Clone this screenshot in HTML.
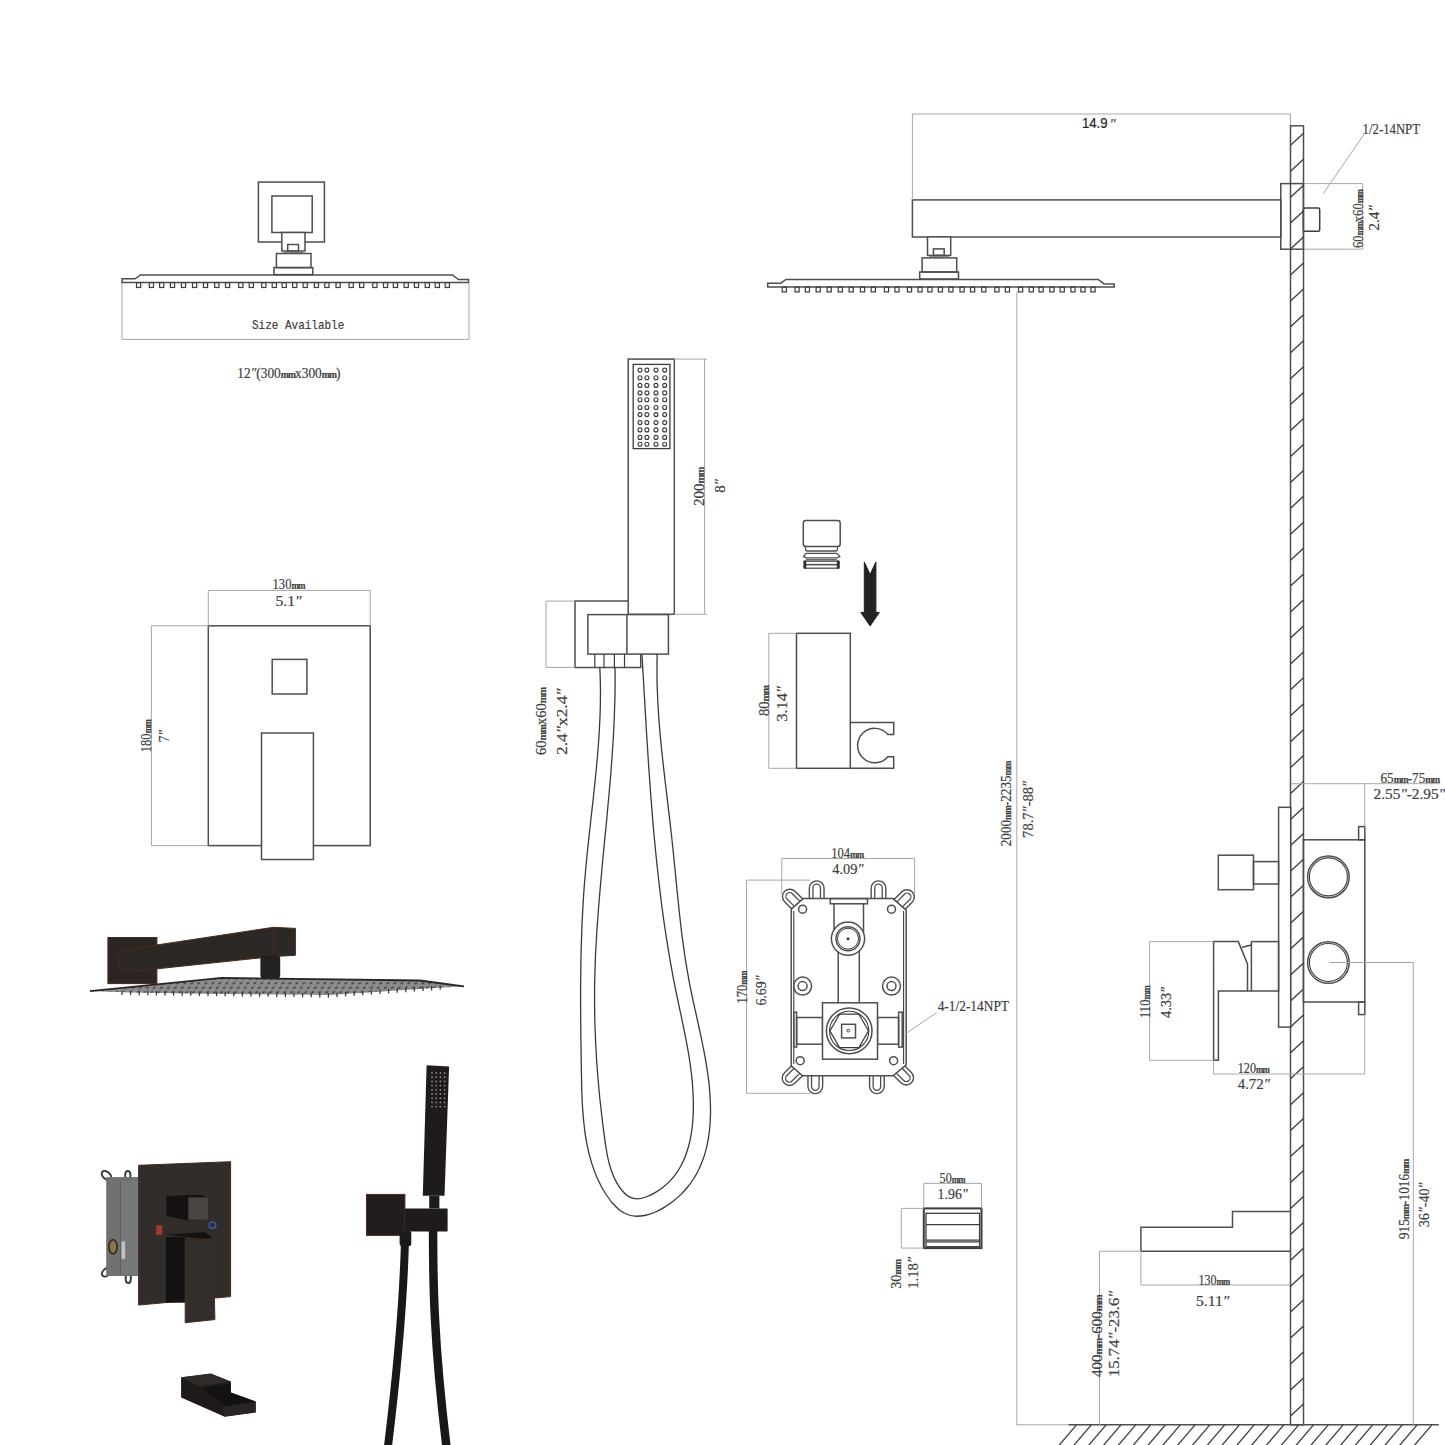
<!DOCTYPE html>
<html><head><meta charset="utf-8"><style>
html,body{margin:0;padding:0;background:#fff;overflow:hidden;}
svg{display:block;}
</style></head><body>
<svg width="1445" height="1445" viewBox="0 0 1445 1445">
<rect width="1445" height="1445" fill="#fff"/>
<path d="M122,278.8 L135.1,278.8 L140.3,275 L452.5,275 L458.4,279.5 L468.5,279.5 L468.5,282.6 L122,282.6 Z" stroke="#4e4e4e" stroke-width="1.5" fill="none"/>
<rect x="136.5" y="282.6" width="4.2" height="4.9" stroke="#3c3c3c" stroke-width="1.2" fill="none"/>
<rect x="149.3" y="282.6" width="4.2" height="4.9" stroke="#3c3c3c" stroke-width="1.2" fill="none"/>
<rect x="159.6" y="282.6" width="4.2" height="4.9" stroke="#3c3c3c" stroke-width="1.2" fill="none"/>
<rect x="170.4" y="282.6" width="4.2" height="4.9" stroke="#3c3c3c" stroke-width="1.2" fill="none"/>
<rect x="181.4" y="282.6" width="4.2" height="4.9" stroke="#3c3c3c" stroke-width="1.2" fill="none"/>
<rect x="192.5" y="282.6" width="4.2" height="4.9" stroke="#3c3c3c" stroke-width="1.2" fill="none"/>
<rect x="203.4" y="282.6" width="4.2" height="4.9" stroke="#3c3c3c" stroke-width="1.2" fill="none"/>
<rect x="214.7" y="282.6" width="4.2" height="4.9" stroke="#3c3c3c" stroke-width="1.2" fill="none"/>
<rect x="225.5" y="282.6" width="4.2" height="4.9" stroke="#3c3c3c" stroke-width="1.2" fill="none"/>
<rect x="238.7" y="282.6" width="4.2" height="4.9" stroke="#3c3c3c" stroke-width="1.2" fill="none"/>
<rect x="249.2" y="282.6" width="4.2" height="4.9" stroke="#3c3c3c" stroke-width="1.2" fill="none"/>
<rect x="261.7" y="282.6" width="4.2" height="4.9" stroke="#3c3c3c" stroke-width="1.2" fill="none"/>
<rect x="272.2" y="282.6" width="4.2" height="4.9" stroke="#3c3c3c" stroke-width="1.2" fill="none"/>
<rect x="282.1" y="282.6" width="4.2" height="4.9" stroke="#3c3c3c" stroke-width="1.2" fill="none"/>
<rect x="292.6" y="282.6" width="4.2" height="4.9" stroke="#3c3c3c" stroke-width="1.2" fill="none"/>
<rect x="303.1" y="282.6" width="4.2" height="4.9" stroke="#3c3c3c" stroke-width="1.2" fill="none"/>
<rect x="314.3" y="282.6" width="4.2" height="4.9" stroke="#3c3c3c" stroke-width="1.2" fill="none"/>
<rect x="324.8" y="282.6" width="4.2" height="4.9" stroke="#3c3c3c" stroke-width="1.2" fill="none"/>
<rect x="336.0" y="282.6" width="4.2" height="4.9" stroke="#3c3c3c" stroke-width="1.2" fill="none"/>
<rect x="349.1" y="282.6" width="4.2" height="4.9" stroke="#3c3c3c" stroke-width="1.2" fill="none"/>
<rect x="359.6" y="282.6" width="4.2" height="4.9" stroke="#3c3c3c" stroke-width="1.2" fill="none"/>
<rect x="372.8" y="282.6" width="4.2" height="4.9" stroke="#3c3c3c" stroke-width="1.2" fill="none"/>
<rect x="383.5" y="282.6" width="4.2" height="4.9" stroke="#3c3c3c" stroke-width="1.2" fill="none"/>
<rect x="393.3" y="282.6" width="4.2" height="4.9" stroke="#3c3c3c" stroke-width="1.2" fill="none"/>
<rect x="404.1" y="282.6" width="4.2" height="4.9" stroke="#3c3c3c" stroke-width="1.2" fill="none"/>
<rect x="414.4" y="282.6" width="4.2" height="4.9" stroke="#3c3c3c" stroke-width="1.2" fill="none"/>
<rect x="425.2" y="282.6" width="4.2" height="4.9" stroke="#3c3c3c" stroke-width="1.2" fill="none"/>
<rect x="435.2" y="282.6" width="4.2" height="4.9" stroke="#3c3c3c" stroke-width="1.2" fill="none"/>
<rect x="445.2" y="282.6" width="4.2" height="4.9" stroke="#3c3c3c" stroke-width="1.2" fill="none"/>
<rect x="258.4" y="182.1" width="66.0" height="59.9" stroke="#4e4e4e" stroke-width="1.5" fill="none"/>
<rect x="271.9" y="196.0" width="40.3" height="36.5" stroke="#4e4e4e" stroke-width="1.5" fill="none"/>
<rect x="281.8" y="232.5" width="23.2" height="18.5" stroke="#4e4e4e" stroke-width="1.5" fill="#fff"/>
<rect x="287.7" y="244.5" width="10.8" height="6.5" stroke="#4e4e4e" stroke-width="1.5" fill="none"/>
<line x1="283.5" y1="252.3" x2="303.5" y2="252.3" stroke="#777" stroke-width="1"/>
<rect x="276.4" y="253.5" width="34.6" height="14.1" stroke="#4e4e4e" stroke-width="1.5" fill="none"/>
<rect x="274.0" y="267.6" width="38.8" height="7.0" stroke="#4e4e4e" stroke-width="1.5" fill="none"/>
<line x1="122.0" y1="283.0" x2="122.0" y2="339.4" stroke="#a8a8a8" stroke-width="1" fill="none"/>
<line x1="469.0" y1="283.0" x2="469.0" y2="339.4" stroke="#a8a8a8" stroke-width="1" fill="none"/>
<line x1="122.0" y1="339.4" x2="469.0" y2="339.4" stroke="#a8a8a8" stroke-width="1" fill="none"/>
<text x="252.0" y="328.6" font-family="Liberation Mono" font-size="13.5" fill="#404040" textLength="92.3" lengthAdjust="spacingAndGlyphs" stroke="#404040" stroke-width="0.2">Size Available</text>
<text x="237.3" y="377.8" font-family="Liberation Serif" font-size="15" fill="#404040" textLength="103.2" lengthAdjust="spacingAndGlyphs" stroke="#404040" stroke-width="0.2">12<tspan font-style="italic">″</tspan>(300<tspan font-size="0.72em" font-weight="bold" letter-spacing="-1.0">mm</tspan>x300<tspan font-size="0.72em" font-weight="bold" letter-spacing="-1.0">mm</tspan>)</text>
<rect x="912.4" y="199.9" width="368.4" height="37.1" stroke="#4e4e4e" stroke-width="1.5" fill="none"/>
<rect x="1280.8" y="183.6" width="22.6" height="65.6" stroke="#4e4e4e" stroke-width="1.5" fill="none"/>
<rect x="1303.4" y="208.1" width="16.3" height="23.2" stroke="#3c3c3c" stroke-width="1.5" fill="#fff" rx="1.5"/>
<path d="M767.7,283.2 L780.8000000000001,283.2 L786.0,279.4 L1098.2,279.4 L1104.1,283.9 L1114.2,283.9 L1114.2,287.0 L767.7,287.0 Z" stroke="#4e4e4e" stroke-width="1.5" fill="none"/>
<rect x="782.2" y="287.0" width="4.2" height="4.9" stroke="#3c3c3c" stroke-width="1.2" fill="none"/>
<rect x="795.0" y="287.0" width="4.2" height="4.9" stroke="#3c3c3c" stroke-width="1.2" fill="none"/>
<rect x="805.3" y="287.0" width="4.2" height="4.9" stroke="#3c3c3c" stroke-width="1.2" fill="none"/>
<rect x="816.1" y="287.0" width="4.2" height="4.9" stroke="#3c3c3c" stroke-width="1.2" fill="none"/>
<rect x="827.1" y="287.0" width="4.2" height="4.9" stroke="#3c3c3c" stroke-width="1.2" fill="none"/>
<rect x="838.2" y="287.0" width="4.2" height="4.9" stroke="#3c3c3c" stroke-width="1.2" fill="none"/>
<rect x="849.1" y="287.0" width="4.2" height="4.9" stroke="#3c3c3c" stroke-width="1.2" fill="none"/>
<rect x="860.4" y="287.0" width="4.2" height="4.9" stroke="#3c3c3c" stroke-width="1.2" fill="none"/>
<rect x="871.2" y="287.0" width="4.2" height="4.9" stroke="#3c3c3c" stroke-width="1.2" fill="none"/>
<rect x="884.4" y="287.0" width="4.2" height="4.9" stroke="#3c3c3c" stroke-width="1.2" fill="none"/>
<rect x="894.9" y="287.0" width="4.2" height="4.9" stroke="#3c3c3c" stroke-width="1.2" fill="none"/>
<rect x="907.4" y="287.0" width="4.2" height="4.9" stroke="#3c3c3c" stroke-width="1.2" fill="none"/>
<rect x="917.9" y="287.0" width="4.2" height="4.9" stroke="#3c3c3c" stroke-width="1.2" fill="none"/>
<rect x="927.8" y="287.0" width="4.2" height="4.9" stroke="#3c3c3c" stroke-width="1.2" fill="none"/>
<rect x="938.3" y="287.0" width="4.2" height="4.9" stroke="#3c3c3c" stroke-width="1.2" fill="none"/>
<rect x="948.8" y="287.0" width="4.2" height="4.9" stroke="#3c3c3c" stroke-width="1.2" fill="none"/>
<rect x="960.0" y="287.0" width="4.2" height="4.9" stroke="#3c3c3c" stroke-width="1.2" fill="none"/>
<rect x="970.5" y="287.0" width="4.2" height="4.9" stroke="#3c3c3c" stroke-width="1.2" fill="none"/>
<rect x="981.7" y="287.0" width="4.2" height="4.9" stroke="#3c3c3c" stroke-width="1.2" fill="none"/>
<rect x="994.8" y="287.0" width="4.2" height="4.9" stroke="#3c3c3c" stroke-width="1.2" fill="none"/>
<rect x="1005.3" y="287.0" width="4.2" height="4.9" stroke="#3c3c3c" stroke-width="1.2" fill="none"/>
<rect x="1018.5" y="287.0" width="4.2" height="4.9" stroke="#3c3c3c" stroke-width="1.2" fill="none"/>
<rect x="1029.2" y="287.0" width="4.2" height="4.9" stroke="#3c3c3c" stroke-width="1.2" fill="none"/>
<rect x="1039.0" y="287.0" width="4.2" height="4.9" stroke="#3c3c3c" stroke-width="1.2" fill="none"/>
<rect x="1049.8" y="287.0" width="4.2" height="4.9" stroke="#3c3c3c" stroke-width="1.2" fill="none"/>
<rect x="1060.1" y="287.0" width="4.2" height="4.9" stroke="#3c3c3c" stroke-width="1.2" fill="none"/>
<rect x="1070.9" y="287.0" width="4.2" height="4.9" stroke="#3c3c3c" stroke-width="1.2" fill="none"/>
<rect x="1080.9" y="287.0" width="4.2" height="4.9" stroke="#3c3c3c" stroke-width="1.2" fill="none"/>
<rect x="1090.9" y="287.0" width="4.2" height="4.9" stroke="#3c3c3c" stroke-width="1.2" fill="none"/>
<rect x="927.5" y="236.9" width="23.2" height="18.5" stroke="#4e4e4e" stroke-width="1.5" fill="#fff"/>
<rect x="933.4" y="248.9" width="10.8" height="6.5" stroke="#4e4e4e" stroke-width="1.5" fill="none"/>
<line x1="929.2" y1="256.7" x2="949.2" y2="256.7" stroke="#777" stroke-width="1"/>
<rect x="922.1" y="257.9" width="34.6" height="14.1" stroke="#4e4e4e" stroke-width="1.5" fill="none"/>
<rect x="919.7" y="272.0" width="38.8" height="7.0" stroke="#4e4e4e" stroke-width="1.5" fill="none"/>
<line x1="912.4" y1="114.0" x2="1290.5" y2="114.0" stroke="#a8a8a8" stroke-width="1" fill="none"/>
<line x1="912.4" y1="114.0" x2="912.4" y2="199.9" stroke="#a8a8a8" stroke-width="1" fill="none"/>
<line x1="1290.5" y1="114.0" x2="1290.5" y2="125.8" stroke="#a8a8a8" stroke-width="1" fill="none"/>
<text x="1081.9" y="127.7" font-family="Liberation Sans" font-size="14.5" fill="#222" textLength="25.7" lengthAdjust="spacingAndGlyphs" stroke="#222" stroke-width="0.2">14.9</text>
<text x="1109.5" y="127.7" font-family="Liberation Sans" font-size="13" fill="#666" textLength="6.0" lengthAdjust="spacingAndGlyphs" stroke="#666" stroke-width="0.2"><tspan font-style="italic">″</tspan></text>
<line x1="1303.4" y1="183.6" x2="1362.7" y2="183.6" stroke="#a8a8a8" stroke-width="1" fill="none"/>
<line x1="1303.4" y1="249.2" x2="1362.7" y2="249.2" stroke="#a8a8a8" stroke-width="1" fill="none"/>
<line x1="1362.7" y1="183.6" x2="1362.7" y2="249.2" stroke="#a8a8a8" stroke-width="1" fill="none"/>
<line x1="1364.6" y1="133.4" x2="1323.3" y2="193.6" stroke="#a8a8a8" stroke-width="1" fill="none"/>
<text x="1362.6" y="134.0" font-family="Liberation Serif" font-size="15" fill="#404040" textLength="57.4" lengthAdjust="spacingAndGlyphs" stroke="#404040" stroke-width="0.2">1/2-14NPT</text>
<text transform="translate(1362.5,248.0) rotate(-90)" x="0" y="0" font-family="Liberation Serif" font-size="15" fill="#404040" textLength="58.0" lengthAdjust="spacingAndGlyphs" stroke="#404040" stroke-width="0.2">60<tspan font-size="0.72em" font-weight="bold" letter-spacing="-1.0">mm</tspan>x60<tspan font-size="0.72em" font-weight="bold" letter-spacing="-1.0">mm</tspan></text>
<text transform="translate(1379.4,230.8) rotate(-90)" x="0" y="0" font-family="Liberation Serif" font-size="15" fill="#404040" textLength="25.8" lengthAdjust="spacingAndGlyphs" stroke="#404040" stroke-width="0.2">2.4<tspan font-style="italic">″</tspan></text>
<line x1="1016.8" y1="291.5" x2="1016.8" y2="1424.8" stroke="#a8a8a8" stroke-width="1" fill="none"/>
<line x1="1016.0" y1="1424.8" x2="1068.5" y2="1424.8" stroke="#a8a8a8" stroke-width="1" fill="none"/>
<text transform="translate(1011.0,846.2) rotate(-90)" x="0" y="0" font-family="Liberation Serif" font-size="15" fill="#404040" textLength="84.7" lengthAdjust="spacingAndGlyphs" stroke="#404040" stroke-width="0.2">2000<tspan font-size="0.72em" font-weight="bold" letter-spacing="-1.0">mm</tspan>-2235<tspan font-size="0.72em" font-weight="bold" letter-spacing="-1.0">mm</tspan></text>
<text transform="translate(1032.6,837.9) rotate(-90)" x="0" y="0" font-family="Liberation Serif" font-size="15" fill="#404040" textLength="57.0" lengthAdjust="spacingAndGlyphs" stroke="#404040" stroke-width="0.2">78.7<tspan font-style="italic">″</tspan>-88<tspan font-style="italic">″</tspan></text>
<rect x="1290.5" y="125.8" width="13.0" height="1299.0" stroke="#4e4e4e" stroke-width="1.5" fill="none"/>
<line x1="1290.5" y1="145.3" x2="1303.5" y2="133.3" stroke="#3c3c3c" stroke-width="1.3"/>
<line x1="1290.5" y1="171.2" x2="1303.5" y2="159.2" stroke="#3c3c3c" stroke-width="1.3"/>
<line x1="1290.5" y1="197.2" x2="1303.5" y2="185.2" stroke="#3c3c3c" stroke-width="1.3"/>
<line x1="1290.5" y1="223.1" x2="1303.5" y2="211.1" stroke="#3c3c3c" stroke-width="1.3"/>
<line x1="1290.5" y1="249.0" x2="1303.5" y2="237.0" stroke="#3c3c3c" stroke-width="1.3"/>
<line x1="1290.5" y1="275.0" x2="1303.5" y2="263.0" stroke="#3c3c3c" stroke-width="1.3"/>
<line x1="1290.5" y1="300.9" x2="1303.5" y2="288.9" stroke="#3c3c3c" stroke-width="1.3"/>
<line x1="1290.5" y1="326.8" x2="1303.5" y2="314.8" stroke="#3c3c3c" stroke-width="1.3"/>
<line x1="1290.5" y1="352.7" x2="1303.5" y2="340.7" stroke="#3c3c3c" stroke-width="1.3"/>
<line x1="1290.5" y1="378.7" x2="1303.5" y2="366.7" stroke="#3c3c3c" stroke-width="1.3"/>
<line x1="1290.5" y1="404.6" x2="1303.5" y2="392.6" stroke="#3c3c3c" stroke-width="1.3"/>
<line x1="1290.5" y1="430.5" x2="1303.5" y2="418.5" stroke="#3c3c3c" stroke-width="1.3"/>
<line x1="1290.5" y1="456.5" x2="1303.5" y2="444.5" stroke="#3c3c3c" stroke-width="1.3"/>
<line x1="1290.5" y1="482.4" x2="1303.5" y2="470.4" stroke="#3c3c3c" stroke-width="1.3"/>
<line x1="1290.5" y1="508.3" x2="1303.5" y2="496.3" stroke="#3c3c3c" stroke-width="1.3"/>
<line x1="1290.5" y1="534.2" x2="1303.5" y2="522.2" stroke="#3c3c3c" stroke-width="1.3"/>
<line x1="1290.5" y1="560.2" x2="1303.5" y2="548.2" stroke="#3c3c3c" stroke-width="1.3"/>
<line x1="1290.5" y1="586.1" x2="1303.5" y2="574.1" stroke="#3c3c3c" stroke-width="1.3"/>
<line x1="1290.5" y1="612.0" x2="1303.5" y2="600.0" stroke="#3c3c3c" stroke-width="1.3"/>
<line x1="1290.5" y1="638.0" x2="1303.5" y2="626.0" stroke="#3c3c3c" stroke-width="1.3"/>
<line x1="1290.5" y1="663.9" x2="1303.5" y2="651.9" stroke="#3c3c3c" stroke-width="1.3"/>
<line x1="1290.5" y1="689.8" x2="1303.5" y2="677.8" stroke="#3c3c3c" stroke-width="1.3"/>
<line x1="1290.5" y1="715.8" x2="1303.5" y2="703.8" stroke="#3c3c3c" stroke-width="1.3"/>
<line x1="1290.5" y1="741.7" x2="1303.5" y2="729.7" stroke="#3c3c3c" stroke-width="1.3"/>
<line x1="1290.5" y1="767.6" x2="1303.5" y2="755.6" stroke="#3c3c3c" stroke-width="1.3"/>
<line x1="1290.5" y1="793.5" x2="1303.5" y2="781.5" stroke="#3c3c3c" stroke-width="1.3"/>
<line x1="1290.5" y1="819.5" x2="1303.5" y2="807.5" stroke="#3c3c3c" stroke-width="1.3"/>
<line x1="1290.5" y1="845.4" x2="1303.5" y2="833.4" stroke="#3c3c3c" stroke-width="1.3"/>
<line x1="1290.5" y1="871.3" x2="1303.5" y2="859.3" stroke="#3c3c3c" stroke-width="1.3"/>
<line x1="1290.5" y1="897.3" x2="1303.5" y2="885.3" stroke="#3c3c3c" stroke-width="1.3"/>
<line x1="1290.5" y1="923.2" x2="1303.5" y2="911.2" stroke="#3c3c3c" stroke-width="1.3"/>
<line x1="1290.5" y1="949.1" x2="1303.5" y2="937.1" stroke="#3c3c3c" stroke-width="1.3"/>
<line x1="1290.5" y1="975.1" x2="1303.5" y2="963.1" stroke="#3c3c3c" stroke-width="1.3"/>
<line x1="1290.5" y1="1001.0" x2="1303.5" y2="989.0" stroke="#3c3c3c" stroke-width="1.3"/>
<line x1="1290.5" y1="1026.9" x2="1303.5" y2="1014.9" stroke="#3c3c3c" stroke-width="1.3"/>
<line x1="1290.5" y1="1052.8" x2="1303.5" y2="1040.8" stroke="#3c3c3c" stroke-width="1.3"/>
<line x1="1290.5" y1="1078.8" x2="1303.5" y2="1066.8" stroke="#3c3c3c" stroke-width="1.3"/>
<line x1="1290.5" y1="1104.7" x2="1303.5" y2="1092.7" stroke="#3c3c3c" stroke-width="1.3"/>
<line x1="1290.5" y1="1130.6" x2="1303.5" y2="1118.6" stroke="#3c3c3c" stroke-width="1.3"/>
<line x1="1290.5" y1="1156.6" x2="1303.5" y2="1144.6" stroke="#3c3c3c" stroke-width="1.3"/>
<line x1="1290.5" y1="1182.5" x2="1303.5" y2="1170.5" stroke="#3c3c3c" stroke-width="1.3"/>
<line x1="1290.5" y1="1208.4" x2="1303.5" y2="1196.4" stroke="#3c3c3c" stroke-width="1.3"/>
<line x1="1290.5" y1="1234.4" x2="1303.5" y2="1222.4" stroke="#3c3c3c" stroke-width="1.3"/>
<line x1="1290.5" y1="1260.3" x2="1303.5" y2="1248.3" stroke="#3c3c3c" stroke-width="1.3"/>
<line x1="1290.5" y1="1286.2" x2="1303.5" y2="1274.2" stroke="#3c3c3c" stroke-width="1.3"/>
<line x1="1290.5" y1="1312.1" x2="1303.5" y2="1300.1" stroke="#3c3c3c" stroke-width="1.3"/>
<line x1="1290.5" y1="1338.1" x2="1303.5" y2="1326.1" stroke="#3c3c3c" stroke-width="1.3"/>
<line x1="1290.5" y1="1364.0" x2="1303.5" y2="1352.0" stroke="#3c3c3c" stroke-width="1.3"/>
<line x1="1290.5" y1="1389.9" x2="1303.5" y2="1377.9" stroke="#3c3c3c" stroke-width="1.3"/>
<line x1="1290.5" y1="1415.9" x2="1303.5" y2="1403.9" stroke="#3c3c3c" stroke-width="1.3"/>
<line x1="1068.5" y1="1424.8" x2="1438.8" y2="1424.8" stroke="#4e4e4e" stroke-width="1.5" fill="none"/>
<line x1="1076.5" y1="1424.8" x2="1058.9" y2="1445.5" stroke="#3c3c3c" stroke-width="1.3"/>
<line x1="1091.3" y1="1424.8" x2="1073.7" y2="1445.5" stroke="#3c3c3c" stroke-width="1.3"/>
<line x1="1106.1" y1="1424.8" x2="1088.5" y2="1445.5" stroke="#3c3c3c" stroke-width="1.3"/>
<line x1="1120.9" y1="1424.8" x2="1103.3" y2="1445.5" stroke="#3c3c3c" stroke-width="1.3"/>
<line x1="1135.7" y1="1424.8" x2="1118.1" y2="1445.5" stroke="#3c3c3c" stroke-width="1.3"/>
<line x1="1150.5" y1="1424.8" x2="1133.0" y2="1445.5" stroke="#3c3c3c" stroke-width="1.3"/>
<line x1="1165.4" y1="1424.8" x2="1147.8" y2="1445.5" stroke="#3c3c3c" stroke-width="1.3"/>
<line x1="1180.2" y1="1424.8" x2="1162.6" y2="1445.5" stroke="#3c3c3c" stroke-width="1.3"/>
<line x1="1195.0" y1="1424.8" x2="1177.4" y2="1445.5" stroke="#3c3c3c" stroke-width="1.3"/>
<line x1="1209.8" y1="1424.8" x2="1192.2" y2="1445.5" stroke="#3c3c3c" stroke-width="1.3"/>
<line x1="1224.6" y1="1424.8" x2="1207.0" y2="1445.5" stroke="#3c3c3c" stroke-width="1.3"/>
<line x1="1239.4" y1="1424.8" x2="1221.8" y2="1445.5" stroke="#3c3c3c" stroke-width="1.3"/>
<line x1="1254.2" y1="1424.8" x2="1236.6" y2="1445.5" stroke="#3c3c3c" stroke-width="1.3"/>
<line x1="1269.0" y1="1424.8" x2="1251.4" y2="1445.5" stroke="#3c3c3c" stroke-width="1.3"/>
<line x1="1283.8" y1="1424.8" x2="1266.2" y2="1445.5" stroke="#3c3c3c" stroke-width="1.3"/>
<line x1="1298.7" y1="1424.8" x2="1281.1" y2="1445.5" stroke="#3c3c3c" stroke-width="1.3"/>
<line x1="1313.5" y1="1424.8" x2="1295.9" y2="1445.5" stroke="#3c3c3c" stroke-width="1.3"/>
<line x1="1328.3" y1="1424.8" x2="1310.7" y2="1445.5" stroke="#3c3c3c" stroke-width="1.3"/>
<line x1="1343.1" y1="1424.8" x2="1325.5" y2="1445.5" stroke="#3c3c3c" stroke-width="1.3"/>
<line x1="1357.9" y1="1424.8" x2="1340.3" y2="1445.5" stroke="#3c3c3c" stroke-width="1.3"/>
<line x1="1372.7" y1="1424.8" x2="1355.1" y2="1445.5" stroke="#3c3c3c" stroke-width="1.3"/>
<line x1="1387.5" y1="1424.8" x2="1369.9" y2="1445.5" stroke="#3c3c3c" stroke-width="1.3"/>
<line x1="1402.3" y1="1424.8" x2="1384.7" y2="1445.5" stroke="#3c3c3c" stroke-width="1.3"/>
<line x1="1417.1" y1="1424.8" x2="1399.5" y2="1445.5" stroke="#3c3c3c" stroke-width="1.3"/>
<line x1="1431.9" y1="1424.8" x2="1414.3" y2="1445.5" stroke="#3c3c3c" stroke-width="1.3"/>
<rect x="1278.6" y="807.3" width="12.1" height="219.8" stroke="#4e4e4e" stroke-width="1.5" fill="#fff"/>
<rect x="1303.4" y="839.8" width="61.4" height="162.2" stroke="#4e4e4e" stroke-width="1.5" fill="none"/>
<rect x="1358.6" y="826.6" width="6.2" height="13.2" stroke="#4e4e4e" stroke-width="1.5" fill="none"/>
<rect x="1358.6" y="1002.0" width="6.2" height="12.6" stroke="#4e4e4e" stroke-width="1.5" fill="none"/>
<circle cx="1328.4" cy="876.9" r="20.8" stroke="#4e4e4e" stroke-width="1.5" fill="none"/>
<circle cx="1328.4" cy="876.9" r="19.0" stroke="#3c3c3c" stroke-width="1.1" fill="none"/>
<circle cx="1328.4" cy="962.5" r="20.8" stroke="#4e4e4e" stroke-width="1.5" fill="none"/>
<circle cx="1328.4" cy="962.5" r="19.0" stroke="#3c3c3c" stroke-width="1.1" fill="none"/>
<rect x="1218.3" y="855.2" width="35.2" height="34.5" stroke="#4e4e4e" stroke-width="1.5" fill="none"/>
<rect x="1253.5" y="861.6" width="25.1" height="22.4" stroke="#4e4e4e" stroke-width="1.5" fill="none"/>
<polygon points="1213.6,941.6 1238.3,941.6 1247.5,963.9 1247.5,991.0 1218.4,991.0 1218.4,1060.3 1213.6,1060.3" stroke="#4e4e4e" stroke-width="1.5" fill="none"/>
<line x1="1241.7" y1="947.4" x2="1251.4" y2="945.0" stroke="#3c3c3c" stroke-width="1.3"/>
<rect x="1251.4" y="941.6" width="27.2" height="49.4" stroke="#4e4e4e" stroke-width="1.5" fill="none"/>
<line x1="1247.5" y1="991.0" x2="1251.4" y2="991.0" stroke="#4e4e4e" stroke-width="1.5" fill="none"/>
<line x1="1290.8" y1="783.7" x2="1439.9" y2="783.7" stroke="#a8a8a8" stroke-width="1" fill="none"/>
<line x1="1364.7" y1="783.7" x2="1364.7" y2="826.6" stroke="#a8a8a8" stroke-width="1" fill="none"/>
<line x1="1364.7" y1="1014.6" x2="1364.7" y2="1074.0" stroke="#a8a8a8" stroke-width="1" fill="none"/>
<line x1="1213.6" y1="1060.3" x2="1213.6" y2="1074.0" stroke="#a8a8a8" stroke-width="1" fill="none"/>
<line x1="1213.6" y1="1074.0" x2="1364.7" y2="1074.0" stroke="#a8a8a8" stroke-width="1" fill="none"/>
<line x1="1149.6" y1="941.6" x2="1213.6" y2="941.6" stroke="#a8a8a8" stroke-width="1" fill="none"/>
<line x1="1149.6" y1="1060.3" x2="1213.6" y2="1060.3" stroke="#a8a8a8" stroke-width="1" fill="none"/>
<line x1="1149.6" y1="941.6" x2="1149.6" y2="1060.3" stroke="#a8a8a8" stroke-width="1" fill="none"/>
<line x1="1329.5" y1="962.5" x2="1413.3" y2="962.5" stroke="#a8a8a8" stroke-width="1" fill="none"/>
<line x1="1413.3" y1="962.5" x2="1413.3" y2="1424.8" stroke="#a8a8a8" stroke-width="1" fill="none"/>
<text x="1380.5" y="783.4" font-family="Liberation Serif" font-size="15" fill="#404040" textLength="58.8" lengthAdjust="spacingAndGlyphs" stroke="#404040" stroke-width="0.2">65<tspan font-size="0.72em" font-weight="bold" letter-spacing="-1.0">mm</tspan>-75<tspan font-size="0.72em" font-weight="bold" letter-spacing="-1.0">mm</tspan></text>
<text x="1373.6" y="799.4" font-family="Liberation Serif" font-size="15" fill="#404040" textLength="71.4" lengthAdjust="spacingAndGlyphs" stroke="#404040" stroke-width="0.2">2.55<tspan font-style="italic">″</tspan>-2.95<tspan font-style="italic">″</tspan></text>
<text x="1237.7" y="1073.2" font-family="Liberation Serif" font-size="15" fill="#404040" textLength="31.3" lengthAdjust="spacingAndGlyphs" stroke="#404040" stroke-width="0.2">120<tspan font-size="0.72em" font-weight="bold" letter-spacing="-1.0">mm</tspan></text>
<text x="1237.7" y="1088.8" font-family="Liberation Serif" font-size="15" fill="#404040" textLength="32.3" lengthAdjust="spacingAndGlyphs" stroke="#404040" stroke-width="0.2">4.72<tspan font-style="italic">″</tspan></text>
<text transform="translate(1150.3,1018.0) rotate(-90)" x="0" y="0" font-family="Liberation Serif" font-size="15" fill="#404040" textLength="32.0" lengthAdjust="spacingAndGlyphs" stroke="#404040" stroke-width="0.2">110<tspan font-size="0.72em" font-weight="bold" letter-spacing="-1.0">mm</tspan></text>
<text transform="translate(1170.8,1018.0) rotate(-90)" x="0" y="0" font-family="Liberation Serif" font-size="15" fill="#404040" textLength="31.0" lengthAdjust="spacingAndGlyphs" stroke="#404040" stroke-width="0.2">4.33<tspan font-style="italic">″</tspan></text>
<polyline points="1290.2,1251.2 1140.9,1251.2 1140.9,1227.2 1232.5,1227.2 1232.5,1211.5 1290.2,1211.5" stroke="#4e4e4e" stroke-width="1.5" fill="none"/>
<line x1="1140.9" y1="1251.2" x2="1140.9" y2="1285.0" stroke="#a8a8a8" stroke-width="1" fill="none"/>
<line x1="1140.9" y1="1285.0" x2="1290.2" y2="1285.0" stroke="#a8a8a8" stroke-width="1" fill="none"/>
<line x1="1099.5" y1="1251.2" x2="1140.9" y2="1251.2" stroke="#a8a8a8" stroke-width="1" fill="none"/>
<line x1="1099.5" y1="1251.2" x2="1099.5" y2="1424.8" stroke="#a8a8a8" stroke-width="1" fill="none"/>
<text x="1198.6" y="1284.7" font-family="Liberation Serif" font-size="15" fill="#404040" textLength="30.8" lengthAdjust="spacingAndGlyphs" stroke="#404040" stroke-width="0.2">130<tspan font-size="0.72em" font-weight="bold" letter-spacing="-1.0">mm</tspan></text>
<text x="1196.0" y="1306.2" font-family="Liberation Serif" font-size="15" fill="#404040" textLength="33.4" lengthAdjust="spacingAndGlyphs" stroke="#404040" stroke-width="0.2">5.11<tspan font-style="italic">″</tspan></text>
<text transform="translate(1101.6,1377.0) rotate(-90)" x="0" y="0" font-family="Liberation Serif" font-size="15" fill="#404040" textLength="81.6" lengthAdjust="spacingAndGlyphs" stroke="#404040" stroke-width="0.2">400<tspan font-size="0.72em" font-weight="bold" letter-spacing="-1.0">mm</tspan>-600<tspan font-size="0.72em" font-weight="bold" letter-spacing="-1.0">mm</tspan></text>
<text transform="translate(1118.6,1377.0) rotate(-90)" x="0" y="0" font-family="Liberation Serif" font-size="15" fill="#404040" textLength="86.2" lengthAdjust="spacingAndGlyphs" stroke="#404040" stroke-width="0.2">15.74<tspan font-style="italic">″</tspan>-23.6<tspan font-style="italic">″</tspan></text>
<text transform="translate(1409.0,1239.2) rotate(-90)" x="0" y="0" font-family="Liberation Serif" font-size="15" fill="#404040" textLength="79.6" lengthAdjust="spacingAndGlyphs" stroke="#404040" stroke-width="0.2">915<tspan font-size="0.72em" font-weight="bold" letter-spacing="-1.0">mm</tspan>-1016<tspan font-size="0.72em" font-weight="bold" letter-spacing="-1.0">mm</tspan></text>
<text transform="translate(1428.7,1227.2) rotate(-90)" x="0" y="0" font-family="Liberation Serif" font-size="15" fill="#404040" textLength="44.7" lengthAdjust="spacingAndGlyphs" stroke="#404040" stroke-width="0.2">36<tspan font-style="italic">″</tspan>-40<tspan font-style="italic">″</tspan></text>
<rect x="208.3" y="625.8" width="161.9" height="219.8" stroke="#4e4e4e" stroke-width="1.5" fill="none"/>
<rect x="272.2" y="659.4" width="34.7" height="34.6" stroke="#4e4e4e" stroke-width="1.5" fill="none"/>
<rect x="261.5" y="733.0" width="51.9" height="126.5" stroke="#4e4e4e" stroke-width="1.5" fill="#fff"/>
<line x1="208.3" y1="590.4" x2="370.2" y2="590.4" stroke="#a8a8a8" stroke-width="1" fill="none"/>
<line x1="208.3" y1="590.4" x2="208.3" y2="625.8" stroke="#a8a8a8" stroke-width="1" fill="none"/>
<line x1="370.2" y1="590.4" x2="370.2" y2="625.8" stroke="#a8a8a8" stroke-width="1" fill="none"/>
<line x1="151.4" y1="625.8" x2="208.3" y2="625.8" stroke="#a8a8a8" stroke-width="1" fill="none"/>
<line x1="151.4" y1="845.6" x2="208.3" y2="845.6" stroke="#a8a8a8" stroke-width="1" fill="none"/>
<line x1="151.4" y1="625.8" x2="151.4" y2="845.6" stroke="#a8a8a8" stroke-width="1" fill="none"/>
<text x="272.6" y="589.3" font-family="Liberation Serif" font-size="15" fill="#404040" textLength="32.2" lengthAdjust="spacingAndGlyphs" stroke="#404040" stroke-width="0.2">130<tspan font-size="0.72em" font-weight="bold" letter-spacing="-1.0">mm</tspan></text>
<text x="275.4" y="606.0" font-family="Liberation Serif" font-size="15" fill="#404040" textLength="26.2" lengthAdjust="spacingAndGlyphs" stroke="#404040" stroke-width="0.2">5.1<tspan font-style="italic">″</tspan></text>
<text transform="translate(151.4,752.3) rotate(-90)" x="0" y="0" font-family="Liberation Serif" font-size="15" fill="#404040" textLength="32.2" lengthAdjust="spacingAndGlyphs" stroke="#404040" stroke-width="0.2">180<tspan font-size="0.72em" font-weight="bold" letter-spacing="-1.0">mm</tspan></text>
<text transform="translate(168.6,742.6) rotate(-90)" x="0" y="0" font-family="Liberation Serif" font-size="15" fill="#404040" textLength="12.8" lengthAdjust="spacingAndGlyphs" stroke="#404040" stroke-width="0.2">7<tspan font-style="italic">″</tspan></text>
<rect x="628.2" y="359.1" width="46.1" height="255.2" stroke="#4e4e4e" stroke-width="1.5" fill="none"/>
<rect x="633.2" y="364.4" width="36.7" height="84.2" stroke="#3c3c3c" stroke-width="1.3" fill="none"/>
<circle cx="640.0" cy="370.1" r="2.0" stroke="#3c3c3c" stroke-width="1.1" fill="none"/>
<circle cx="640.0" cy="377.8" r="2.0" stroke="#3c3c3c" stroke-width="1.1" fill="none"/>
<circle cx="640.0" cy="385.4" r="2.0" stroke="#3c3c3c" stroke-width="1.1" fill="none"/>
<circle cx="640.0" cy="392.9" r="2.0" stroke="#3c3c3c" stroke-width="1.1" fill="none"/>
<circle cx="640.0" cy="399.8" r="2.0" stroke="#3c3c3c" stroke-width="1.1" fill="none"/>
<circle cx="640.0" cy="407.5" r="2.0" stroke="#3c3c3c" stroke-width="1.1" fill="none"/>
<circle cx="640.0" cy="414.6" r="2.0" stroke="#3c3c3c" stroke-width="1.1" fill="none"/>
<circle cx="640.0" cy="422.6" r="2.0" stroke="#3c3c3c" stroke-width="1.1" fill="none"/>
<circle cx="640.0" cy="429.9" r="2.0" stroke="#3c3c3c" stroke-width="1.1" fill="none"/>
<circle cx="640.0" cy="437.4" r="2.0" stroke="#3c3c3c" stroke-width="1.1" fill="none"/>
<circle cx="640.0" cy="444.3" r="2.0" stroke="#3c3c3c" stroke-width="1.1" fill="none"/>
<circle cx="646.9" cy="370.1" r="2.0" stroke="#3c3c3c" stroke-width="1.1" fill="none"/>
<circle cx="646.9" cy="377.8" r="2.0" stroke="#3c3c3c" stroke-width="1.1" fill="none"/>
<circle cx="646.9" cy="385.4" r="2.0" stroke="#3c3c3c" stroke-width="1.1" fill="none"/>
<circle cx="646.9" cy="392.9" r="2.0" stroke="#3c3c3c" stroke-width="1.1" fill="none"/>
<circle cx="646.9" cy="399.8" r="2.0" stroke="#3c3c3c" stroke-width="1.1" fill="none"/>
<circle cx="646.9" cy="407.5" r="2.0" stroke="#3c3c3c" stroke-width="1.1" fill="none"/>
<circle cx="646.9" cy="414.6" r="2.0" stroke="#3c3c3c" stroke-width="1.1" fill="none"/>
<circle cx="646.9" cy="422.6" r="2.0" stroke="#3c3c3c" stroke-width="1.1" fill="none"/>
<circle cx="646.9" cy="429.9" r="2.0" stroke="#3c3c3c" stroke-width="1.1" fill="none"/>
<circle cx="646.9" cy="437.4" r="2.0" stroke="#3c3c3c" stroke-width="1.1" fill="none"/>
<circle cx="646.9" cy="444.3" r="2.0" stroke="#3c3c3c" stroke-width="1.1" fill="none"/>
<circle cx="656.0" cy="370.1" r="2.0" stroke="#3c3c3c" stroke-width="1.1" fill="none"/>
<circle cx="656.0" cy="377.8" r="2.0" stroke="#3c3c3c" stroke-width="1.1" fill="none"/>
<circle cx="656.0" cy="385.4" r="2.0" stroke="#3c3c3c" stroke-width="1.1" fill="none"/>
<circle cx="656.0" cy="392.9" r="2.0" stroke="#3c3c3c" stroke-width="1.1" fill="none"/>
<circle cx="656.0" cy="399.8" r="2.0" stroke="#3c3c3c" stroke-width="1.1" fill="none"/>
<circle cx="656.0" cy="407.5" r="2.0" stroke="#3c3c3c" stroke-width="1.1" fill="none"/>
<circle cx="656.0" cy="414.6" r="2.0" stroke="#3c3c3c" stroke-width="1.1" fill="none"/>
<circle cx="656.0" cy="422.6" r="2.0" stroke="#3c3c3c" stroke-width="1.1" fill="none"/>
<circle cx="656.0" cy="429.9" r="2.0" stroke="#3c3c3c" stroke-width="1.1" fill="none"/>
<circle cx="656.0" cy="437.4" r="2.0" stroke="#3c3c3c" stroke-width="1.1" fill="none"/>
<circle cx="656.0" cy="444.3" r="2.0" stroke="#3c3c3c" stroke-width="1.1" fill="none"/>
<circle cx="664.7" cy="370.1" r="2.0" stroke="#3c3c3c" stroke-width="1.1" fill="none"/>
<circle cx="664.7" cy="377.8" r="2.0" stroke="#3c3c3c" stroke-width="1.1" fill="none"/>
<circle cx="664.7" cy="385.4" r="2.0" stroke="#3c3c3c" stroke-width="1.1" fill="none"/>
<circle cx="664.7" cy="392.9" r="2.0" stroke="#3c3c3c" stroke-width="1.1" fill="none"/>
<circle cx="664.7" cy="399.8" r="2.0" stroke="#3c3c3c" stroke-width="1.1" fill="none"/>
<circle cx="664.7" cy="407.5" r="2.0" stroke="#3c3c3c" stroke-width="1.1" fill="none"/>
<circle cx="664.7" cy="414.6" r="2.0" stroke="#3c3c3c" stroke-width="1.1" fill="none"/>
<circle cx="664.7" cy="422.6" r="2.0" stroke="#3c3c3c" stroke-width="1.1" fill="none"/>
<circle cx="664.7" cy="429.9" r="2.0" stroke="#3c3c3c" stroke-width="1.1" fill="none"/>
<circle cx="664.7" cy="437.4" r="2.0" stroke="#3c3c3c" stroke-width="1.1" fill="none"/>
<circle cx="664.7" cy="444.3" r="2.0" stroke="#3c3c3c" stroke-width="1.1" fill="none"/>
<line x1="674.3" y1="359.1" x2="707.0" y2="359.1" stroke="#a8a8a8" stroke-width="1" fill="none"/>
<line x1="674.3" y1="614.3" x2="707.0" y2="614.3" stroke="#a8a8a8" stroke-width="1" fill="none"/>
<line x1="704.6" y1="359.1" x2="704.6" y2="614.3" stroke="#a8a8a8" stroke-width="1" fill="none"/>
<text transform="translate(703.5,505.9) rotate(-90)" x="0" y="0" font-family="Liberation Serif" font-size="15" fill="#404040" textLength="38.3" lengthAdjust="spacingAndGlyphs" stroke="#404040" stroke-width="0.2">200<tspan font-size="0.72em" font-weight="bold" letter-spacing="-1.0">mm</tspan></text>
<text transform="translate(725.2,492.7) rotate(-90)" x="0" y="0" font-family="Liberation Serif" font-size="15" fill="#404040" textLength="13.7" lengthAdjust="spacingAndGlyphs" stroke="#404040" stroke-width="0.2">8<tspan font-style="italic">″</tspan></text>
<polyline points="628.2,601.1 575.0,601.1 575.0,667.4 640.7,667.4 640.7,654.1" stroke="#4e4e4e" stroke-width="1.5" fill="none"/>
<rect x="587.9" y="614.6" width="80.5" height="39.5" stroke="#4e4e4e" stroke-width="1.5" fill="#fff"/>
<line x1="626.9" y1="614.6" x2="626.9" y2="654.1" stroke="#4e4e4e" stroke-width="1.5" fill="none"/>
<line x1="594.8" y1="654.1" x2="594.8" y2="667.4" stroke="#3c3c3c" stroke-width="1.2"/>
<line x1="604.0" y1="654.1" x2="604.0" y2="667.4" stroke="#3c3c3c" stroke-width="1.2"/>
<line x1="614.4" y1="654.1" x2="614.4" y2="667.4" stroke="#3c3c3c" stroke-width="1.2"/>
<line x1="624.5" y1="654.1" x2="624.5" y2="667.4" stroke="#3c3c3c" stroke-width="1.2"/>
<line x1="546.0" y1="601.1" x2="575.0" y2="601.1" stroke="#a8a8a8" stroke-width="1" fill="none"/>
<line x1="546.0" y1="667.4" x2="575.0" y2="667.4" stroke="#a8a8a8" stroke-width="1" fill="none"/>
<line x1="546.0" y1="601.1" x2="546.0" y2="667.4" stroke="#a8a8a8" stroke-width="1" fill="none"/>
<text transform="translate(545.9,754.9) rotate(-90)" x="0" y="0" font-family="Liberation Serif" font-size="15" fill="#404040" textLength="67.1" lengthAdjust="spacingAndGlyphs" stroke="#404040" stroke-width="0.2">60<tspan font-size="0.72em" font-weight="bold" letter-spacing="-1.0">mm</tspan>x60<tspan font-size="0.72em" font-weight="bold" letter-spacing="-1.0">mm</tspan></text>
<text transform="translate(566.7,754.9) rotate(-90)" x="0" y="0" font-family="Liberation Serif" font-size="15" fill="#404040" textLength="66.5" lengthAdjust="spacingAndGlyphs" stroke="#404040" stroke-width="0.2">2.4<tspan font-style="italic">″</tspan>x2.4<tspan font-style="italic">″</tspan></text>
<path d="M599.8,667.4 C599.9,669.0 600.1,673.9 600.2,677.2 C600.3,680.4 600.4,683.7 600.4,687.0 C600.5,690.2 600.5,693.5 600.4,696.8 C600.4,700.0 600.4,703.3 600.3,706.6 C600.2,709.9 600.1,713.1 600.0,716.4 C599.9,719.7 599.7,723.0 599.5,726.3 C599.4,729.6 599.2,732.9 599.0,736.1 C598.7,739.4 598.5,742.7 598.3,746.0 C598.0,749.3 597.7,752.6 597.5,755.9 C597.2,759.2 596.9,762.5 596.6,765.8 C596.3,769.1 596.0,772.4 595.6,775.7 C595.3,779.0 595.0,782.2 594.6,785.5 C594.3,788.8 593.9,792.1 593.6,795.4 C593.2,798.7 592.8,802.0 592.5,805.3 C592.1,808.6 591.7,811.9 591.4,815.2 C591.0,818.5 590.6,821.8 590.3,825.1 C589.9,828.3 589.5,831.6 589.2,834.9 C588.8,838.2 588.5,841.5 588.1,844.8 C587.8,848.1 587.4,851.3 587.1,854.6 C586.8,857.9 586.5,861.2 586.1,864.4 C585.8,867.7 585.5,871.0 585.3,874.3 C585.0,877.5 584.7,880.8 584.4,884.1 C584.2,887.3 584.0,890.6 583.7,893.8 C583.5,897.1 583.3,900.3 583.1,903.6 C582.9,906.9 582.7,910.1 582.6,913.4 C582.4,916.6 582.2,919.9 582.1,923.1 C581.9,926.4 581.8,929.6 581.7,932.9 C581.6,936.1 581.5,939.3 581.4,942.6 C581.3,945.8 581.2,949.1 581.1,952.3 C581.0,955.6 581.0,958.8 580.9,962.1 C580.8,965.4 580.8,968.6 580.8,971.9 C580.7,975.1 580.7,978.4 580.7,981.6 C580.6,984.9 580.6,988.2 580.6,991.4 C580.6,994.7 580.6,998.0 580.6,1001.3 C580.6,1004.5 580.6,1007.8 580.6,1011.1 C580.7,1014.4 580.7,1017.7 580.7,1021.0 C580.7,1024.3 580.8,1027.6 580.8,1030.9 C580.8,1034.2 580.9,1037.5 580.9,1040.8 C581.0,1044.1 581.0,1047.4 581.1,1050.8 C581.1,1054.1 581.2,1057.4 581.2,1060.8 C581.3,1064.1 581.3,1067.5 581.4,1070.8 C581.5,1074.2 581.5,1077.6 581.6,1080.9 C581.7,1084.3 581.7,1087.7 581.8,1091.1 C582.0,1094.4 582.1,1097.8 582.2,1101.2 C582.4,1104.5 582.6,1107.9 582.8,1111.2 C583.1,1114.6 583.3,1117.9 583.7,1121.2 C584.0,1124.5 584.4,1127.8 584.8,1131.1 C585.2,1134.4 585.7,1137.6 586.3,1140.8 C586.9,1144.1 587.5,1147.3 588.3,1150.4 C589.0,1153.6 589.8,1156.8 590.7,1159.9 C591.6,1163.0 592.6,1166.0 593.7,1169.1 C594.8,1172.1 595.9,1175.1 597.2,1178.0 C598.6,1180.9 600.0,1183.8 601.5,1186.7 C603.0,1189.5 604.7,1192.4 606.5,1195.0 C608.3,1197.7 610.2,1200.4 612.2,1202.8 C614.3,1205.2 616.5,1207.5 618.9,1209.4 C621.2,1211.2 623.7,1212.9 626.4,1214.0 C629.1,1215.2 632.0,1215.9 635.0,1216.2 C638.0,1216.4 641.3,1216.1 644.5,1215.5 C647.7,1214.9 651.0,1213.8 654.3,1212.5 C657.5,1211.2 660.8,1209.5 663.8,1207.6 C666.9,1205.8 670.0,1203.7 672.8,1201.5 C675.6,1199.3 678.3,1197.0 680.8,1194.6 C683.3,1192.1 685.6,1189.6 687.7,1187.0 C689.8,1184.4 691.7,1181.7 693.5,1179.0 C695.3,1176.2 696.9,1173.4 698.3,1170.5 C699.8,1167.6 701.0,1164.6 702.2,1161.6 C703.4,1158.6 704.4,1155.5 705.3,1152.4 C706.2,1149.3 706.9,1146.1 707.5,1143.0 C708.2,1139.8 708.7,1136.6 709.1,1133.3 C709.6,1130.1 709.9,1126.8 710.1,1123.5 C710.3,1120.3 710.4,1117.0 710.5,1113.7 C710.6,1110.4 710.5,1107.1 710.4,1103.9 C710.3,1100.6 710.2,1097.3 709.9,1094.0 C709.7,1090.8 709.4,1087.5 709.1,1084.3 C708.7,1081.0 708.3,1077.8 707.9,1074.5 C707.4,1071.3 706.9,1068.0 706.4,1064.8 C705.9,1061.5 705.3,1058.3 704.7,1055.1 C704.1,1051.8 703.5,1048.6 702.8,1045.4 C702.2,1042.2 701.5,1038.9 700.8,1035.7 C700.1,1032.5 699.4,1029.3 698.7,1026.0 C698.0,1022.8 697.3,1019.6 696.6,1016.4 C695.8,1013.1 695.1,1009.9 694.4,1006.7 C693.7,1003.5 693.0,1000.2 692.3,997.0 C691.6,993.8 691.0,990.6 690.3,987.3 C689.7,984.1 689.0,980.9 688.5,977.6 C687.9,974.4 687.3,971.1 686.8,967.9 C686.2,964.7 685.7,961.4 685.2,958.2 C684.7,954.9 684.2,951.7 683.8,948.4 C683.3,945.2 682.9,941.9 682.4,938.7 C682.0,935.4 681.6,932.2 681.2,928.9 C680.8,925.7 680.5,922.4 680.1,919.1 C679.7,915.9 679.4,912.6 679.0,909.4 C678.7,906.1 678.3,902.8 678.0,899.6 C677.7,896.3 677.3,893.0 677.0,889.8 C676.7,886.5 676.4,883.2 676.0,880.0 C675.7,876.7 675.4,873.4 675.1,870.2 C674.8,866.9 674.4,863.6 674.1,860.4 C673.8,857.1 673.5,853.8 673.1,850.6 C672.8,847.3 672.4,844.0 672.1,840.8 C671.7,837.5 671.4,834.2 671.0,831.0 C670.6,827.7 670.3,824.4 669.9,821.2 C669.5,817.9 669.1,814.6 668.7,811.4 C668.3,808.1 667.9,804.8 667.6,801.6 C667.2,798.3 666.8,795.0 666.4,791.8 C666.0,788.5 665.6,785.2 665.2,782.0 C664.8,778.7 664.5,775.4 664.1,772.2 C663.7,768.9 663.3,765.6 663.0,762.4 C662.6,759.1 662.3,755.8 661.9,752.6 C661.6,749.3 661.3,746.0 660.9,742.7 C660.6,739.5 660.3,736.2 660.0,732.9 C659.7,729.6 659.5,726.4 659.2,723.1 C659.0,719.8 658.7,716.5 658.5,713.3 C658.3,710.0 658.1,706.7 657.9,703.4 C657.7,700.1 657.6,696.9 657.5,693.6 C657.3,690.3 657.2,687.0 657.1,683.7 C657.1,680.4 657.0,677.2 657.0,673.9 C657.0,670.6 657.0,667.3 657.0,664.0 C657.0,660.7 657.2,655.7 657.2,654.1" stroke="#3a3a3a" stroke-width="1.3" fill="none"/>
<path d="M615.0,667.4 C615.0,669.0 615.1,673.7 615.1,676.8 C615.1,679.9 615.1,683.0 615.1,686.2 C615.1,689.3 615.0,692.4 615.0,695.5 C614.9,698.7 614.8,701.8 614.7,704.9 C614.6,708.1 614.5,711.2 614.4,714.3 C614.3,717.5 614.2,720.6 614.0,723.7 C613.9,726.8 613.7,730.0 613.6,733.1 C613.4,736.2 613.2,739.4 613.0,742.5 C612.8,745.6 612.6,748.8 612.4,751.9 C612.2,755.0 612.0,758.2 611.7,761.3 C611.5,764.4 611.3,767.6 611.0,770.7 C610.8,773.8 610.5,777.0 610.3,780.1 C610.0,783.2 609.7,786.4 609.4,789.5 C609.2,792.6 608.9,795.8 608.6,798.9 C608.3,802.0 608.0,805.2 607.7,808.3 C607.4,811.4 607.2,814.6 606.9,817.7 C606.6,820.8 606.3,824.0 606.0,827.1 C605.7,830.3 605.3,833.4 605.0,836.5 C604.7,839.7 604.4,842.8 604.1,845.9 C603.8,849.1 603.5,852.2 603.2,855.3 C602.9,858.5 602.6,861.6 602.3,864.7 C602.0,867.8 601.7,871.0 601.5,874.1 C601.2,877.2 600.9,880.4 600.6,883.5 C600.3,886.6 600.1,889.8 599.8,892.9 C599.5,896.0 599.3,899.2 599.0,902.3 C598.7,905.4 598.5,908.5 598.3,911.7 C598.0,914.8 597.8,917.9 597.6,921.1 C597.3,924.2 597.1,927.3 596.9,930.4 C596.7,933.6 596.5,936.7 596.4,939.8 C596.2,942.9 596.0,946.1 595.8,949.2 C595.7,952.3 595.5,955.4 595.4,958.6 C595.3,961.7 595.2,964.8 595.1,967.9 C595.0,971.0 594.9,974.2 594.8,977.3 C594.7,980.4 594.7,983.5 594.6,986.6 C594.6,989.7 594.6,992.9 594.6,996.0 C594.6,999.1 594.6,1002.2 594.6,1005.3 C594.6,1008.4 594.7,1011.6 594.7,1014.7 C594.8,1017.8 594.9,1020.9 594.9,1024.0 C595.0,1027.1 595.1,1030.3 595.3,1033.4 C595.4,1036.5 595.5,1039.6 595.7,1042.7 C595.8,1045.9 596.0,1049.0 596.2,1052.1 C596.3,1055.2 596.5,1058.4 596.7,1061.5 C596.9,1064.6 597.2,1067.8 597.4,1070.9 C597.6,1074.0 597.9,1077.2 598.2,1080.3 C598.4,1083.5 598.7,1086.6 599.0,1089.8 C599.3,1092.9 599.6,1096.1 599.9,1099.2 C600.3,1102.4 600.6,1105.5 601.0,1108.7 C601.3,1111.9 601.7,1115.0 602.1,1118.2 C602.4,1121.4 602.8,1124.6 603.2,1127.7 C603.6,1130.9 604.0,1134.1 604.5,1137.3 C604.9,1140.5 605.3,1143.7 605.9,1146.9 C606.4,1150.0 606.9,1153.2 607.5,1156.3 C608.2,1159.4 608.9,1162.5 609.8,1165.5 C610.6,1168.5 611.6,1171.5 612.7,1174.3 C613.9,1177.2 615.2,1180.0 616.7,1182.6 C618.2,1185.2 619.9,1187.9 621.8,1190.2 C623.8,1192.5 625.9,1194.9 628.4,1196.4 C630.8,1197.8 633.6,1198.8 636.5,1198.9 C639.5,1199.0 642.8,1198.1 645.9,1197.0 C649.0,1196.0 652.2,1194.3 655.1,1192.6 C657.9,1191.0 660.6,1189.1 663.1,1187.2 C665.6,1185.2 667.9,1183.1 670.0,1180.9 C672.2,1178.6 674.1,1176.3 675.9,1173.8 C677.7,1171.4 679.3,1168.8 680.7,1166.2 C682.2,1163.5 683.5,1160.8 684.6,1158.0 C685.8,1155.1 686.8,1152.2 687.7,1149.3 C688.6,1146.3 689.4,1143.3 690.1,1140.2 C690.7,1137.2 691.3,1134.0 691.7,1130.9 C692.2,1127.7 692.5,1124.6 692.7,1121.4 C693.0,1118.2 693.2,1115.0 693.3,1111.7 C693.4,1108.5 693.4,1105.3 693.3,1102.1 C693.3,1098.9 693.2,1095.7 693.0,1092.6 C692.8,1089.4 692.6,1086.2 692.4,1083.1 C692.1,1079.9 691.8,1076.8 691.4,1073.7 C691.1,1070.6 690.6,1067.5 690.2,1064.4 C689.8,1061.3 689.3,1058.2 688.8,1055.1 C688.3,1052.0 687.7,1048.9 687.2,1045.8 C686.6,1042.8 686.0,1039.7 685.4,1036.6 C684.8,1033.6 684.2,1030.5 683.6,1027.5 C682.9,1024.4 682.3,1021.3 681.7,1018.3 C681.0,1015.2 680.4,1012.2 679.7,1009.1 C679.1,1006.1 678.4,1003.0 677.8,1000.0 C677.1,996.9 676.5,993.9 675.9,990.8 C675.2,987.7 674.6,984.7 674.0,981.6 C673.4,978.5 672.8,975.5 672.3,972.4 C671.7,969.3 671.2,966.3 670.6,963.2 C670.1,960.1 669.5,957.0 669.0,953.9 C668.5,950.8 668.0,947.8 667.5,944.7 C667.0,941.6 666.5,938.5 666.0,935.4 C665.6,932.3 665.1,929.2 664.6,926.1 C664.2,923.0 663.7,919.9 663.3,916.8 C662.9,913.7 662.5,910.6 662.0,907.4 C661.6,904.3 661.2,901.2 660.8,898.1 C660.5,895.0 660.1,891.9 659.7,888.8 C659.3,885.6 659.0,882.5 658.6,879.4 C658.2,876.3 657.9,873.1 657.6,870.0 C657.2,866.9 656.9,863.8 656.6,860.6 C656.2,857.5 655.9,854.4 655.6,851.3 C655.3,848.1 655.0,845.0 654.7,841.9 C654.4,838.7 654.1,835.6 653.8,832.5 C653.6,829.3 653.3,826.2 653.0,823.1 C652.7,819.9 652.5,816.8 652.2,813.6 C652.0,810.5 651.7,807.4 651.5,804.2 C651.2,801.1 651.0,798.0 650.7,794.8 C650.5,791.7 650.3,788.5 650.1,785.4 C649.8,782.3 649.6,779.1 649.4,776.0 C649.2,772.9 648.9,769.7 648.7,766.6 C648.5,763.4 648.3,760.3 648.1,757.2 C647.9,754.0 647.7,750.9 647.5,747.8 C647.3,744.6 647.1,741.5 646.9,738.4 C646.7,735.2 646.5,732.1 646.3,729.0 C646.1,725.8 646.0,722.7 645.8,719.6 C645.6,716.5 645.4,713.3 645.2,710.2 C645.0,707.1 644.8,703.9 644.7,700.8 C644.5,697.7 644.3,694.6 644.1,691.5 C643.9,688.3 643.7,685.2 643.6,682.1 C643.4,679.0 643.2,675.9 643.0,672.8 C642.8,669.6 642.6,666.5 642.5,663.4 C642.3,660.3 642.0,655.7 641.9,654.1" stroke="#3a3a3a" stroke-width="1.3" fill="none"/>
<rect x="803.3" y="520.6" width="36.9" height="25.8" rx="2.5" stroke="#4e4e4e" stroke-width="1.5" fill="#fff"/>
<path d="M805.5,546.4 L805.5,549 Q805.5,551 807.5,551 L835.5,551 Q837.5,551 837.5,549 L837.5,546.4" stroke="#4e4e4e" stroke-width="1.3" fill="none"/>
<line x1="806.0" y1="553.4" x2="837.0" y2="553.4" stroke="#4e4e4e" stroke-width="1.3" fill="none"/>
<path d="M806,553.4 L803.5,556.5 L806,557.8 L837,557.8 L839.8,556.5 L837,553.4" stroke="#4e4e4e" stroke-width="1.3" fill="none"/>
<line x1="806.0" y1="559.8" x2="837.0" y2="559.8" stroke="#4e4e4e" stroke-width="1.3" fill="none"/>
<rect x="804.8" y="561.2" width="33.5" height="3.4" stroke="#4e4e4e" stroke-width="1.3" fill="none"/>
<rect x="804.8" y="564.6" width="33.5" height="3.6" stroke="#4e4e4e" stroke-width="1.3" fill="none"/>
<rect x="803.3" y="560.6" width="3.0" height="8.2" rx="1.2" fill="#333" stroke="none"/>
<rect x="836.8" y="560.6" width="3.0" height="8.2" rx="1.2" fill="#333" stroke="none"/>
<path d="M864.3,562 L870.1,574.6 L875.9,562 L875.9,612.4 L879.4,612.4 L870.1,625.9 L860.8,612.4 L864.3,612.4 Z" fill="#222" stroke="#222" stroke-width="1"/>
<rect x="796.5" y="633.3" width="53.8" height="135.0" stroke="#4e4e4e" stroke-width="1.5" fill="none"/>
<path d="M850.3,722.4 L893.7,722.4 L893.7,734.4 L887.9,734.4 A17.2,17.2 0 1 0 887.9,756.7 L893.7,756.7 L893.7,768.3 L850.3,768.3" stroke="#4e4e4e" stroke-width="1.5" fill="none"/>
<line x1="768.8" y1="633.3" x2="768.8" y2="768.3" stroke="#a8a8a8" stroke-width="1" fill="none"/>
<line x1="768.8" y1="633.3" x2="796.5" y2="633.3" stroke="#a8a8a8" stroke-width="1" fill="none"/>
<line x1="768.8" y1="768.3" x2="796.5" y2="768.3" stroke="#a8a8a8" stroke-width="1" fill="none"/>
<text transform="translate(769.4,716.0) rotate(-90)" x="0" y="0" font-family="Liberation Serif" font-size="15" fill="#404040" textLength="30.0" lengthAdjust="spacingAndGlyphs" stroke="#404040" stroke-width="0.2">80<tspan font-size="0.72em" font-weight="bold" letter-spacing="-1.0">mm</tspan></text>
<text transform="translate(786.8,721.8) rotate(-90)" x="0" y="0" font-family="Liberation Serif" font-size="15" fill="#404040" textLength="35.8" lengthAdjust="spacingAndGlyphs" stroke="#404040" stroke-width="0.2">3.14<tspan font-style="italic">″</tspan></text>
<g transform="translate(816.7,899.5) rotate(-90)"><path d="M0,-7.35 L11.250000000000002,-7.35 A7.35,7.35 0 0 1 11.250000000000002,7.35 L0,7.35" stroke="#4e4e4e" stroke-width="1.4" fill="#fff"/><path d="M0,-3.75 L11.55,-3.75 A3.75,3.75 0 0 1 11.55,3.75 L0,3.75" stroke="#4e4e4e" stroke-width="1.3" fill="none"/></g>
<g transform="translate(878.5,899.5) rotate(-90)"><path d="M0,-7.35 L11.250000000000002,-7.35 A7.35,7.35 0 0 1 11.250000000000002,7.35 L0,7.35" stroke="#4e4e4e" stroke-width="1.4" fill="#fff"/><path d="M0,-3.75 L11.55,-3.75 A3.75,3.75 0 0 1 11.55,3.75 L0,3.75" stroke="#4e4e4e" stroke-width="1.3" fill="none"/></g>
<g transform="translate(815.3,1075.0) rotate(90)"><path d="M0,-7.35 L11.250000000000002,-7.35 A7.35,7.35 0 0 1 11.250000000000002,7.35 L0,7.35" stroke="#4e4e4e" stroke-width="1.4" fill="#fff"/><path d="M0,-3.75 L11.55,-3.75 A3.75,3.75 0 0 1 11.55,3.75 L0,3.75" stroke="#4e4e4e" stroke-width="1.3" fill="none"/></g>
<g transform="translate(876.9,1075.0) rotate(90)"><path d="M0,-7.35 L11.250000000000002,-7.35 A7.35,7.35 0 0 1 11.250000000000002,7.35 L0,7.35" stroke="#4e4e4e" stroke-width="1.4" fill="#fff"/><path d="M0,-3.75 L11.55,-3.75 A3.75,3.75 0 0 1 11.55,3.75 L0,3.75" stroke="#4e4e4e" stroke-width="1.3" fill="none"/></g>
<g transform="translate(797.8,904.5) rotate(-135)"><path d="M0,-7.35 L11.250000000000002,-7.35 A7.35,7.35 0 0 1 11.250000000000002,7.35 L0,7.35" stroke="#4e4e4e" stroke-width="1.4" fill="#fff"/><path d="M0,-3.75 L11.55,-3.75 A3.75,3.75 0 0 1 11.55,3.75 L0,3.75" stroke="#4e4e4e" stroke-width="1.3" fill="none"/></g>
<g transform="translate(899.0,905.0) rotate(-45)"><path d="M0,-7.35 L11.250000000000002,-7.35 A7.35,7.35 0 0 1 11.250000000000002,7.35 L0,7.35" stroke="#4e4e4e" stroke-width="1.4" fill="#fff"/><path d="M0,-3.75 L11.55,-3.75 A3.75,3.75 0 0 1 11.55,3.75 L0,3.75" stroke="#4e4e4e" stroke-width="1.3" fill="none"/></g>
<g transform="translate(797.5,1070.2) rotate(135)"><path d="M0,-7.35 L11.250000000000002,-7.35 A7.35,7.35 0 0 1 11.250000000000002,7.35 L0,7.35" stroke="#4e4e4e" stroke-width="1.4" fill="#fff"/><path d="M0,-3.75 L11.55,-3.75 A3.75,3.75 0 0 1 11.55,3.75 L0,3.75" stroke="#4e4e4e" stroke-width="1.3" fill="none"/></g>
<g transform="translate(898.2,1069.7) rotate(45)"><path d="M0,-7.35 L11.250000000000002,-7.35 A7.35,7.35 0 0 1 11.250000000000002,7.35 L0,7.35" stroke="#4e4e4e" stroke-width="1.4" fill="#fff"/><path d="M0,-3.75 L11.55,-3.75 A3.75,3.75 0 0 1 11.55,3.75 L0,3.75" stroke="#4e4e4e" stroke-width="1.3" fill="none"/></g>
<polygon points="803.2,898.6 893.0,898.6 906.2,910.2 906.2,1064.8 893.0,1075.8 802.6,1075.8 791.2,1065.8 791.2,909.2" stroke="#4e4e4e" stroke-width="1.5" fill="#fff"/>
<line x1="793.8" y1="911.0" x2="793.8" y2="1064.0" stroke="#3c3c3c" stroke-width="1.1"/>
<line x1="903.6" y1="911.0" x2="903.6" y2="1064.0" stroke="#3c3c3c" stroke-width="1.1"/>
<circle cx="802.6" cy="909.2" r="4.0" stroke="#4e4e4e" stroke-width="1.5" fill="none"/>
<circle cx="891.5" cy="909.2" r="4.0" stroke="#4e4e4e" stroke-width="1.5" fill="none"/>
<circle cx="800.2" cy="1060.7" r="4.0" stroke="#4e4e4e" stroke-width="1.5" fill="none"/>
<circle cx="893.6" cy="1060.7" r="4.0" stroke="#4e4e4e" stroke-width="1.5" fill="none"/>
<circle cx="802.6" cy="986.1" r="9.0" stroke="#4e4e4e" stroke-width="1.5" fill="none"/>
<circle cx="802.6" cy="986.1" r="4.5" stroke="#4e4e4e" stroke-width="1.5" fill="none"/>
<circle cx="891.5" cy="986.1" r="9.0" stroke="#4e4e4e" stroke-width="1.5" fill="none"/>
<circle cx="891.5" cy="986.1" r="4.5" stroke="#4e4e4e" stroke-width="1.5" fill="none"/>
<line x1="834.0" y1="903.8" x2="834.0" y2="932.0" stroke="#4e4e4e" stroke-width="1.5" fill="none"/>
<line x1="863.5" y1="903.8" x2="863.5" y2="932.0" stroke="#4e4e4e" stroke-width="1.5" fill="none"/>
<rect x="830.3" y="898.6" width="37.2" height="5.2" stroke="#4e4e4e" stroke-width="1.5" fill="none"/>
<line x1="838.2" y1="945.0" x2="838.2" y2="1002.8" stroke="#4e4e4e" stroke-width="1.5" fill="none"/>
<line x1="859.3" y1="945.0" x2="859.3" y2="1002.8" stroke="#4e4e4e" stroke-width="1.5" fill="none"/>
<circle cx="848.0" cy="938.7" r="16.6" stroke="#4e4e4e" stroke-width="1.5" fill="#fff"/>
<circle cx="848.0" cy="938.7" r="12.0" stroke="#4e4e4e" stroke-width="1.5" fill="none"/>
<circle cx="848.0" cy="938.7" r="10.5" stroke="#3c3c3c" stroke-width="1" fill="none"/>
<circle cx="848.0" cy="938.7" r="1.5" fill="#3c3c3c"/>
<rect x="796.6" y="1017.5" width="25.9" height="26.7" stroke="#4e4e4e" stroke-width="1.5" fill="none"/>
<rect x="793.8" y="1012.2" width="2.8" height="34.9" stroke="#4e4e4e" stroke-width="1.5" fill="none"/>
<rect x="877.5" y="1017.5" width="21.1" height="26.7" stroke="#4e4e4e" stroke-width="1.5" fill="none"/>
<rect x="898.6" y="1012.2" width="3.6" height="34.9" stroke="#4e4e4e" stroke-width="1.5" fill="none"/>
<rect x="822.5" y="1002.8" width="55.0" height="56.4" stroke="#4e4e4e" stroke-width="1.5" fill="#fff"/>
<circle cx="849.2" cy="1030.9" r="22.8" stroke="#4e4e4e" stroke-width="1.5" fill="none"/>
<circle cx="849.2" cy="1030.9" r="19.6" stroke="#3c3c3c" stroke-width="1.1" fill="none"/>
<polygon points="868.5,1030.9 858.9,1047.6 839.6,1047.6 829.9,1030.9 839.6,1014.2 858.9,1014.2" stroke="#3c3c3c" stroke-width="1.2" fill="none"/>
<rect x="841.6" y="1024.3" width="13.9" height="13.6" stroke="#4e4e4e" stroke-width="1.5" fill="none"/>
<circle cx="848.2" cy="1030.6" r="1.4" fill="none" stroke="#3c3c3c" stroke-width="1"/>
<line x1="781.8" y1="858.5" x2="914.6" y2="858.5" stroke="#a8a8a8" stroke-width="1" fill="none"/>
<line x1="781.8" y1="858.5" x2="781.8" y2="895.0" stroke="#a8a8a8" stroke-width="1" fill="none"/>
<line x1="914.6" y1="858.5" x2="914.6" y2="895.0" stroke="#a8a8a8" stroke-width="1" fill="none"/>
<line x1="746.5" y1="880.1" x2="810.0" y2="880.1" stroke="#a8a8a8" stroke-width="1" fill="none"/>
<line x1="746.5" y1="1093.3" x2="810.0" y2="1093.3" stroke="#a8a8a8" stroke-width="1" fill="none"/>
<line x1="746.5" y1="880.1" x2="746.5" y2="1093.3" stroke="#a8a8a8" stroke-width="1" fill="none"/>
<text x="831.3" y="858.0" font-family="Liberation Serif" font-size="15" fill="#404040" textLength="32.2" lengthAdjust="spacingAndGlyphs" stroke="#404040" stroke-width="0.2">104<tspan font-size="0.72em" font-weight="bold" letter-spacing="-1.0">mm</tspan></text>
<text x="832.3" y="874.1" font-family="Liberation Serif" font-size="15" fill="#404040" textLength="31.2" lengthAdjust="spacingAndGlyphs" stroke="#404040" stroke-width="0.2">4.09<tspan font-style="italic">″</tspan></text>
<text transform="translate(747.0,1003.6) rotate(-90)" x="0" y="0" font-family="Liberation Serif" font-size="15" fill="#404040" textLength="32.2" lengthAdjust="spacingAndGlyphs" stroke="#404040" stroke-width="0.2">170<tspan font-size="0.72em" font-weight="bold" letter-spacing="-1.0">mm</tspan></text>
<text transform="translate(766.1,1005.6) rotate(-90)" x="0" y="0" font-family="Liberation Serif" font-size="15" fill="#404040" textLength="30.1" lengthAdjust="spacingAndGlyphs" stroke="#404040" stroke-width="0.2">6.69<tspan font-style="italic">″</tspan></text>
<text x="937.7" y="1010.6" font-family="Liberation Serif" font-size="15" fill="#404040" textLength="71.3" lengthAdjust="spacingAndGlyphs" stroke="#404040" stroke-width="0.2">4-1/2-14NPT</text>
<line x1="936.7" y1="1012.6" x2="905.6" y2="1033.7" stroke="#a8a8a8" stroke-width="1" fill="none"/>
<rect x="923.8" y="1208.4" width="57.7" height="39.7" stroke="#3c3c3c" stroke-width="2" fill="none"/>
<rect x="926.0" y="1213.3" width="53.6" height="33.4" stroke="#3c3c3c" stroke-width="1.3" fill="none"/>
<line x1="926.0" y1="1224.7" x2="979.6" y2="1224.7" stroke="#3c3c3c" stroke-width="1.3"/>
<line x1="926.0" y1="1240.2" x2="979.6" y2="1240.2" stroke="#3c3c3c" stroke-width="1.3"/>
<line x1="926.0" y1="1241.8" x2="979.6" y2="1241.8" stroke="#3c3c3c" stroke-width="1.3"/>
<line x1="923.8" y1="1183.4" x2="981.5" y2="1183.4" stroke="#a8a8a8" stroke-width="1" fill="none"/>
<line x1="923.8" y1="1183.4" x2="923.8" y2="1208.4" stroke="#a8a8a8" stroke-width="1" fill="none"/>
<line x1="981.5" y1="1183.4" x2="981.5" y2="1208.4" stroke="#a8a8a8" stroke-width="1" fill="none"/>
<line x1="901.3" y1="1208.4" x2="923.8" y2="1208.4" stroke="#a8a8a8" stroke-width="1" fill="none"/>
<line x1="901.3" y1="1248.1" x2="923.8" y2="1248.1" stroke="#a8a8a8" stroke-width="1" fill="none"/>
<line x1="901.3" y1="1208.4" x2="901.3" y2="1248.1" stroke="#a8a8a8" stroke-width="1" fill="none"/>
<text x="939.6" y="1182.8" font-family="Liberation Serif" font-size="15" fill="#404040" textLength="25.1" lengthAdjust="spacingAndGlyphs" stroke="#404040" stroke-width="0.2">50<tspan font-size="0.72em" font-weight="bold" letter-spacing="-1.0">mm</tspan></text>
<text x="937.6" y="1198.7" font-family="Liberation Serif" font-size="15" fill="#404040" textLength="30.1" lengthAdjust="spacingAndGlyphs" stroke="#404040" stroke-width="0.2">1.96<tspan font-style="italic">″</tspan></text>
<text transform="translate(900.8,1288.8) rotate(-90)" x="0" y="0" font-family="Liberation Serif" font-size="15" fill="#404040" textLength="29.0" lengthAdjust="spacingAndGlyphs" stroke="#404040" stroke-width="0.2">30<tspan font-size="0.72em" font-weight="bold" letter-spacing="-1.0">mm</tspan></text>
<text transform="translate(917.8,1288.8) rotate(-90)" x="0" y="0" font-family="Liberation Serif" font-size="15" fill="#404040" textLength="31.9" lengthAdjust="spacingAndGlyphs" stroke="#404040" stroke-width="0.2">1.18<tspan font-style="italic">″</tspan></text>
<g>
<defs><pattern id="dots" width="7" height="4.5" patternUnits="userSpaceOnUse" patternTransform="skewX(-30)"><rect width="7" height="4.5" fill="#8c8c8c"/><circle cx="3.5" cy="2.2" r="1.2" fill="#3e3e3e"/></pattern></defs>
<polygon points="90.0,991.1 221.6,977.9 420.0,980.5 464.0,986.3 426.2,988.5 330.0,995.0 215.0,994.0 130.0,992.5" fill="url(#dots)" stroke="none"/>
<path d="M90,991.1 L221.6,977.9 L420,980.5 L464,986.3" stroke="#2a2522" stroke-width="1.8" fill="none"/>
<line x1="122.0" y1="990.5" x2="122.0" y2="995.0" stroke="#3a3a3a" stroke-width="1.3"/>
<line x1="130.6" y1="990.6" x2="130.6" y2="995.1" stroke="#3a3a3a" stroke-width="1.3"/>
<line x1="139.2" y1="990.7" x2="139.2" y2="995.2" stroke="#3a3a3a" stroke-width="1.3"/>
<line x1="147.8" y1="990.8" x2="147.8" y2="995.3" stroke="#3a3a3a" stroke-width="1.3"/>
<line x1="156.4" y1="990.9" x2="156.4" y2="995.4" stroke="#3a3a3a" stroke-width="1.3"/>
<line x1="165.0" y1="991.0" x2="165.0" y2="995.5" stroke="#3a3a3a" stroke-width="1.3"/>
<line x1="173.6" y1="991.1" x2="173.6" y2="995.6" stroke="#3a3a3a" stroke-width="1.3"/>
<line x1="182.2" y1="991.2" x2="182.2" y2="995.7" stroke="#3a3a3a" stroke-width="1.3"/>
<line x1="190.8" y1="991.3" x2="190.8" y2="995.8" stroke="#3a3a3a" stroke-width="1.3"/>
<line x1="199.4" y1="991.4" x2="199.4" y2="995.9" stroke="#3a3a3a" stroke-width="1.3"/>
<line x1="208.0" y1="991.5" x2="208.0" y2="996.0" stroke="#3a3a3a" stroke-width="1.3"/>
<line x1="216.6" y1="991.6" x2="216.6" y2="996.1" stroke="#3a3a3a" stroke-width="1.3"/>
<line x1="225.2" y1="991.7" x2="225.2" y2="996.2" stroke="#3a3a3a" stroke-width="1.3"/>
<line x1="233.8" y1="991.8" x2="233.8" y2="996.3" stroke="#3a3a3a" stroke-width="1.3"/>
<line x1="242.4" y1="991.9" x2="242.4" y2="996.4" stroke="#3a3a3a" stroke-width="1.3"/>
<line x1="251.0" y1="992.0" x2="251.0" y2="996.5" stroke="#3a3a3a" stroke-width="1.3"/>
<line x1="259.6" y1="992.2" x2="259.6" y2="996.7" stroke="#3a3a3a" stroke-width="1.3"/>
<line x1="268.2" y1="992.3" x2="268.2" y2="996.8" stroke="#3a3a3a" stroke-width="1.3"/>
<line x1="276.8" y1="992.4" x2="276.8" y2="996.9" stroke="#3a3a3a" stroke-width="1.3"/>
<line x1="285.4" y1="992.5" x2="285.4" y2="997.0" stroke="#3a3a3a" stroke-width="1.3"/>
<line x1="294.0" y1="992.6" x2="294.0" y2="997.1" stroke="#3a3a3a" stroke-width="1.3"/>
<line x1="302.6" y1="992.7" x2="302.6" y2="997.2" stroke="#3a3a3a" stroke-width="1.3"/>
<line x1="311.2" y1="992.8" x2="311.2" y2="997.3" stroke="#3a3a3a" stroke-width="1.3"/>
<line x1="319.8" y1="992.9" x2="319.8" y2="997.4" stroke="#3a3a3a" stroke-width="1.3"/>
<line x1="328.4" y1="993.0" x2="328.4" y2="997.5" stroke="#3a3a3a" stroke-width="1.3"/>
<line x1="337.0" y1="992.5" x2="337.0" y2="997.0" stroke="#3a3a3a" stroke-width="1.3"/>
<line x1="345.6" y1="991.9" x2="345.6" y2="996.4" stroke="#3a3a3a" stroke-width="1.3"/>
<line x1="354.2" y1="991.3" x2="354.2" y2="995.8" stroke="#3a3a3a" stroke-width="1.3"/>
<line x1="362.8" y1="990.7" x2="362.8" y2="995.2" stroke="#3a3a3a" stroke-width="1.3"/>
<line x1="371.4" y1="990.1" x2="371.4" y2="994.6" stroke="#3a3a3a" stroke-width="1.3"/>
<line x1="380.0" y1="989.5" x2="380.0" y2="994.0" stroke="#3a3a3a" stroke-width="1.3"/>
<line x1="388.6" y1="988.9" x2="388.6" y2="993.4" stroke="#3a3a3a" stroke-width="1.3"/>
<line x1="397.2" y1="988.3" x2="397.2" y2="992.8" stroke="#3a3a3a" stroke-width="1.3"/>
<line x1="405.8" y1="987.7" x2="405.8" y2="992.2" stroke="#3a3a3a" stroke-width="1.3"/>
<line x1="414.4" y1="987.1" x2="414.4" y2="991.6" stroke="#3a3a3a" stroke-width="1.3"/>
<line x1="423.0" y1="986.5" x2="423.0" y2="991.0" stroke="#3a3a3a" stroke-width="1.3"/>
<line x1="431.6" y1="985.9" x2="431.6" y2="990.4" stroke="#3a3a3a" stroke-width="1.3"/>
<line x1="440.2" y1="985.3" x2="440.2" y2="989.8" stroke="#3a3a3a" stroke-width="1.3"/>
<rect x="107.9" y="937.5" width="49.0" height="46.1" fill="#2b2624" stroke="#4a2a1e" stroke-width="1"/>
<polygon points="117.3,955.0 125.7,949.7 273.4,927.3 295.4,928.4 295.4,955.3 273.4,956.5 128.7,971.8 119.0,968.0" fill="#2c2826" stroke="#4a2a1e" stroke-width="1"/>
<line x1="273.4" y1="927.3" x2="273.4" y2="956.5" stroke="#4a2a1e" stroke-width="1"/>
<rect x="260.4" y="955.8" width="19.8" height="22.8" rx="3" fill="#242120" stroke="none"/>
</g>
<ellipse cx="106.5" cy="1175.5" rx="5.5" ry="3.5" transform="rotate(40 106.5 1175.5)" fill="none" stroke="#3a3a3a" stroke-width="2"/>
<ellipse cx="127.8" cy="1175.5" rx="2.6" ry="4.5" fill="none" stroke="#3a3a3a" stroke-width="2"/>
<ellipse cx="106.8" cy="1272" rx="5.5" ry="3.5" transform="rotate(-40 106.8 1272)" fill="none" stroke="#3a3a3a" stroke-width="2"/>
<ellipse cx="128.3" cy="1278.5" rx="2.6" ry="4.5" fill="none" stroke="#3a3a3a" stroke-width="2"/>
<rect x="106.2" y="1177.1" width="32.2" height="98.9" fill="#6f7173" stroke="none"/>
<rect x="120.5" y="1181.0" width="17.9" height="93.0" fill="#76787a" stroke="none"/>
<line x1="120.5" y1="1181.0" x2="120.5" y2="1274.0" stroke="#5e6062" stroke-width="1"/>
<ellipse cx="113" cy="1246.8" rx="4.2" ry="7" fill="#8a7445" stroke="#2e2a20" stroke-width="1.6"/>
<rect x="121.5" y="1241.4" width="3.6" height="17.5" fill="#c8c0c0" stroke="none"/>
<polygon points="138.6,1165.3 230.6,1161.7 230.6,1296.6 138.6,1305.1" fill="#312d2b" stroke="#4a2a1e" stroke-width="1"/>
<polygon points="166.5,1196.0 200.0,1194.7 208.2,1197.4 208.2,1219.8 188.3,1220.4 166.5,1216.0" fill="#151312" stroke="none"/>
<rect x="188.3" y="1197.4" width="19.9" height="22.4" fill="#4a4442" stroke="none"/>
<polygon points="166.5,1234.7 205.0,1232.0 212.9,1238.2 212.9,1240.0" fill="#151312" stroke="none"/>
<rect x="165.9" y="1237.0" width="19.3" height="65.7" fill="#151312" stroke="none"/>
<polygon points="185.2,1241.6 213.1,1238.5 214.9,1319.6 185.2,1322.7" fill="#322e2c" stroke="#4a2a1e" stroke-width="1"/>
<rect x="156.2" y="1225.2" width="6.0" height="9.7" fill="#a03a30" stroke="none"/>
<circle cx="212.5" cy="1225.2" r="3.2" fill="none" stroke="#3a5aa0" stroke-width="1.6"/>
<polygon points="181.1,1377.3 210.8,1373.5 230.9,1381.5 230.9,1392.5 255.8,1401.5 255.8,1412.6 224.7,1416.7 181.1,1397.4" fill="#1e1a19" stroke="none"/>
<polygon points="181.5,1377.5 210.8,1373.8 230.5,1381.7 200.0,1386.5" fill="#302b29" stroke="none"/>
<polygon points="203.0,1388.0 230.5,1384.0 230.5,1392.5 255.5,1401.5 226.0,1406.0" fill="#141111" stroke="none"/>
<polygon points="222.0,1407.0 255.5,1402.0 255.5,1412.3 224.7,1416.5" fill="#2a2524" stroke="none"/>
<polygon points="426.6,1065.2 449.1,1066.5 444.5,1195.7 422.8,1195.7" fill="#1f1b1a" stroke="none"/>
<circle cx="432.0" cy="1073.0" r="0.9" fill="#8a8a8a" stroke="none"/>
<circle cx="436.2" cy="1073.0" r="0.9" fill="#8a8a8a" stroke="none"/>
<circle cx="440.4" cy="1073.0" r="0.9" fill="#8a8a8a" stroke="none"/>
<circle cx="444.6" cy="1073.0" r="0.9" fill="#8a8a8a" stroke="none"/>
<circle cx="432.0" cy="1077.2" r="0.9" fill="#8a8a8a" stroke="none"/>
<circle cx="436.2" cy="1077.2" r="0.9" fill="#8a8a8a" stroke="none"/>
<circle cx="440.4" cy="1077.2" r="0.9" fill="#8a8a8a" stroke="none"/>
<circle cx="444.6" cy="1077.2" r="0.9" fill="#8a8a8a" stroke="none"/>
<circle cx="432.0" cy="1081.4" r="0.9" fill="#8a8a8a" stroke="none"/>
<circle cx="436.2" cy="1081.4" r="0.9" fill="#8a8a8a" stroke="none"/>
<circle cx="440.4" cy="1081.4" r="0.9" fill="#8a8a8a" stroke="none"/>
<circle cx="444.6" cy="1081.4" r="0.9" fill="#8a8a8a" stroke="none"/>
<circle cx="432.0" cy="1085.6" r="0.9" fill="#8a8a8a" stroke="none"/>
<circle cx="436.2" cy="1085.6" r="0.9" fill="#8a8a8a" stroke="none"/>
<circle cx="440.4" cy="1085.6" r="0.9" fill="#8a8a8a" stroke="none"/>
<circle cx="444.6" cy="1085.6" r="0.9" fill="#8a8a8a" stroke="none"/>
<circle cx="432.0" cy="1089.8" r="0.9" fill="#8a8a8a" stroke="none"/>
<circle cx="436.2" cy="1089.8" r="0.9" fill="#8a8a8a" stroke="none"/>
<circle cx="440.4" cy="1089.8" r="0.9" fill="#8a8a8a" stroke="none"/>
<circle cx="444.6" cy="1089.8" r="0.9" fill="#8a8a8a" stroke="none"/>
<circle cx="432.0" cy="1094.0" r="0.9" fill="#8a8a8a" stroke="none"/>
<circle cx="436.2" cy="1094.0" r="0.9" fill="#8a8a8a" stroke="none"/>
<circle cx="440.4" cy="1094.0" r="0.9" fill="#8a8a8a" stroke="none"/>
<circle cx="444.6" cy="1094.0" r="0.9" fill="#8a8a8a" stroke="none"/>
<circle cx="432.0" cy="1098.2" r="0.9" fill="#8a8a8a" stroke="none"/>
<circle cx="436.2" cy="1098.2" r="0.9" fill="#8a8a8a" stroke="none"/>
<circle cx="440.4" cy="1098.2" r="0.9" fill="#8a8a8a" stroke="none"/>
<circle cx="444.6" cy="1098.2" r="0.9" fill="#8a8a8a" stroke="none"/>
<circle cx="432.0" cy="1102.4" r="0.9" fill="#8a8a8a" stroke="none"/>
<circle cx="436.2" cy="1102.4" r="0.9" fill="#8a8a8a" stroke="none"/>
<circle cx="440.4" cy="1102.4" r="0.9" fill="#8a8a8a" stroke="none"/>
<circle cx="444.6" cy="1102.4" r="0.9" fill="#8a8a8a" stroke="none"/>
<circle cx="432.0" cy="1106.6" r="0.9" fill="#8a8a8a" stroke="none"/>
<circle cx="436.2" cy="1106.6" r="0.9" fill="#8a8a8a" stroke="none"/>
<circle cx="440.4" cy="1106.6" r="0.9" fill="#8a8a8a" stroke="none"/>
<circle cx="444.6" cy="1106.6" r="0.9" fill="#8a8a8a" stroke="none"/>
<rect x="429.2" y="1195.7" width="10.2" height="12.8" fill="#1f1b1a" stroke="none"/>
<rect x="366.5" y="1194.4" width="38.4" height="41.0" fill="#211d1c" stroke="#4a2a1e" stroke-width="1"/>
<rect x="404.9" y="1208.5" width="42.7" height="23.0" fill="#1f1b1a" stroke="none"/>
<rect x="399.6" y="1231.0" width="11.7" height="15.0" rx="2" fill="#1f1b1a" stroke="none"/>
<path d="M405,1240 C404,1280 401,1340 387.9,1447" stroke="#1a1717" stroke-width="8" fill="none"/>
<path d="M433.1,1231 C433,1280 433.5,1340 446.5,1447" stroke="#1a1717" stroke-width="8.5" fill="none"/>
</svg>
</body></html>
